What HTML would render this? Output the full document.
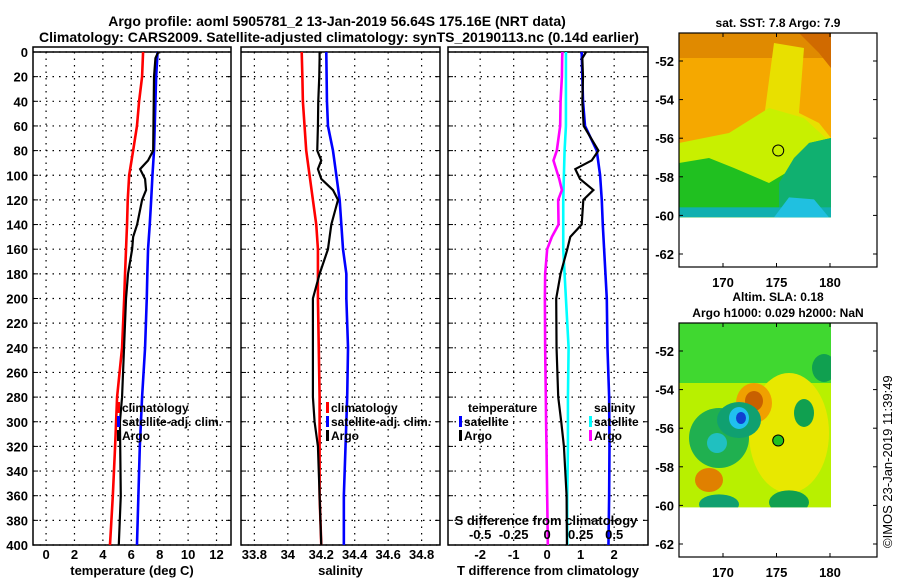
<!DOCTYPE html>
<html><head><meta charset="utf-8"><style>
body{margin:0;background:#fff;}
svg{display:block;font-family:"Liberation Sans",Arial,sans-serif;font-weight:bold;}
</style></head><body>
<svg id="c" width="900" height="580" viewBox="0 0 900 580">
<text x="337" y="26" font-size="14" text-anchor="middle">Argo profile: aoml 5905781_2 13-Jan-2019 56.64S 175.16E (NRT data)</text>
<text x="339" y="42" font-size="14" text-anchor="middle">Climatology: CARS2009. Satellite-adjusted climatology: synTS_20190113.nc (0.14d earlier)</text>
<g id="p1"></g>
<g id="p2"></g>
<g id="p3"></g>
<g id="m1"></g>
<g id="m2"></g>
<text transform="translate(892,548) rotate(-90)" font-size="13" font-weight="normal">©IMOS 23-Jan-2019 11:39:49</text>
</svg>
<script>
const NS="http://www.w3.org/2000/svg";
const depths=[0,20,40,60,80,100,120,140,160,180,200,240,280,320,360,400];
const tClim=[6.83,6.76,6.55,6.4,6.13,5.85,5.75,5.7,5.63,5.56,5.5,5.35,5.0,4.86,4.7,4.5];
const tSat=[7.85,7.75,7.7,7.65,7.6,7.49,7.4,7.3,7.18,7.13,7.09,6.97,6.76,6.6,6.5,6.4];
const argoDepths=[0,5,20,40,60,80,88,95,103,112,120,140,150,160,180,200,240,280,300,320,360,400];
const tArgo=[7.9,7.7,7.6,7.58,7.56,7.54,7.18,6.62,6.97,7.04,6.76,6.41,6.13,6.06,5.77,5.63,5.49,5.35,5.2,5.22,5.26,5.12];
const sClim=[34.083,34.087,34.09,34.1,34.11,34.13,34.15,34.17,34.18,34.18,34.18,34.185,34.19,34.19,34.19,34.2];
const sSat=[34.23,34.232,34.234,34.24,34.27,34.29,34.31,34.32,34.33,34.35,34.35,34.36,34.355,34.345,34.335,34.335];
const sArgo=[34.19,34.19,34.188,34.182,34.18,34.176,34.2,34.18,34.2,34.27,34.3,34.26,34.25,34.24,34.19,34.15,34.15,34.15,34.16,34.18,34.19,34.2];
const dtSat=[1.03,1.05,1.07,1.13,1.48,1.58,1.63,1.66,1.7,1.74,1.78,1.8,1.85,1.86,1.85,1.83];
const dtArgo=[1.16,1.05,1.07,1.05,1.09,1.53,1.33,0.84,0.98,1.38,1.08,1.03,0.69,0.6,0.4,0.27,0.28,0.33,0.42,0.5,0.58,0.59];
const dsSat=[0.14,0.14,0.14,0.14,0.13,0.125,0.12,0.12,0.12,0.13,0.14,0.16,0.155,0.155,0.15,0.15];
const dsArgo=[0.114,0.112,0.11,0.1,0.097,0.072,0.047,0.067,0.09,0.11,0.082,0.085,0.035,0.0,-0.015,-0.017,-0.015,-0.01,-0.008,-0.005,0.0,0.005];
const tTicks=[0,2,4,6,8,10,12];
const sTicks=[33.8,34,34.2,34.4,34.6,34.8];
const dtTicks=[-2,-1,0,1,2];
const dsTicks=[-0.5,-0.25,0,0.25,0.5];
const depthTicks=[0,20,40,60,80,100,120,140,160,180,200,220,240,260,280,300,320,340,360,380,400];

function el(tag,attrs,parent,txt){const e=document.createElementNS(NS,tag);for(const k in attrs)e.setAttribute(k,attrs[k]);if(txt!==undefined)e.textContent=txt;parent.appendChild(e);return e;}
const Y0=52,Y1=545;
const yD=d=>Y0+d*(Y1-Y0)/400;

function panel(g,x0,x1,dmin,dmax,ticks,fmt,xlabel,showY){
  const xs=v=>x0+(v-dmin)/(dmax-dmin)*(x1-x0);
  depthTicks.forEach(d=>{
    const l=el('line',{x1:x0,x2:x1,y1:yD(d),y2:yD(d),stroke:'#000','stroke-width':1.2,'stroke-dasharray':'1.5,5'},g);
    
    el('line',{x1:x0,x2:x0+5,y1:yD(d),y2:yD(d),stroke:'#000'},g);
    el('line',{x1:x1-5,x2:x1,y1:yD(d),y2:yD(d),stroke:'#000'},g);
    if(showY){const t=el('text',{x:28,y:yD(d)+5,'font-size':13,'text-anchor':'end'},g,d);
      }
  });
  ticks.forEach(v=>{
    el('line',{x1:xs(v),x2:xs(v),y1:Y0,y2:Y1,stroke:'#000','stroke-width':1.2,'stroke-dasharray':'1.5,5'},g);
    const t=el('text',{x:xs(v),y:Y1+14,'font-size':13,'text-anchor':'middle'},g,fmt(v));
    
  });
  const r=el('rect',{x:x0,y:Y0-5,width:x1-x0,height:Y1-Y0+5,fill:'none',stroke:'#000','stroke-width':1.5},g);
  
  el('line',{x1:x0,x2:x1,y1:Y0,y2:Y0,stroke:'#000','stroke-width':1.5},g);
  const lb=el('text',{x:(x0+x1)/2,y:575,'font-size':13,'text-anchor':'middle'},g,xlabel);
  
  return xs;
}
function line(g,xs,ds,vals,color,name,w){
  const p=el('polyline',{points:vals.map((v,i)=>xs(v)+','+yD(ds[i])).join(' '),fill:'none',stroke:color,'stroke-width':w||2.6},g);
  
}
function legend(g,x,y,color,label,name){
  el('rect',{x:x,y:y-10,width:3,height:11,fill:color},g);
  const t=el('text',{x:x+5,y:y,'font-size':12},g,label);
  
}
const p1=document.getElementById('p1');
const x1s=panel(p1,33,231,-0.92,13.02,tTicks,v=>v,'temperature (deg C)',true);
line(p1,x1s,depths,tClim,'#f00','temp-climatology-line');
line(p1,x1s,depths,tSat,'#00f','temp-satellite-line');
line(p1,x1s,argoDepths,tArgo,'#000','temp-argo-line',2.2);
legend(p1,117,412,'#f00','climatology','legend-climatology');
legend(p1,117,426,'#00f','satellite-adj. clim.','legend-satellite');
legend(p1,117,440,'#000','Argo','legend-argo');

const p2=document.getElementById('p2');
const x2s=panel(p2,241,440,33.72,34.91,sTicks,v=>v,'salinity',false);
line(p2,x2s,depths,sClim,'#f00','sal-climatology-line');
line(p2,x2s,depths,sSat,'#00f','sal-satellite-line');
line(p2,x2s,argoDepths,sArgo,'#000','sal-argo-line',2.2);
legend(p2,326,412,'#f00','climatology','legend-climatology');
legend(p2,326,426,'#00f','satellite-adj. clim.','legend-satellite');
legend(p2,326,440,'#000','Argo','legend-argo');

const p3=document.getElementById('p3');
const x3s=panel(p3,448,648,-2.96,3.01,dtTicks,v=>v,'T difference from climatology',false);
const x3ss=v=>x3s(v*4);
line(p3,x3ss,depths,dsSat,'#0ff','sdiff-satellite-line');
line(p3,x3ss,argoDepths,dsArgo,'#f0f','sdiff-argo-line');
line(p3,x3s,depths,dtSat,'#00f','tdiff-satellite-line');
line(p3,x3s,argoDepths,dtArgo,'#000','tdiff-argo-line',2.2);
el('text',{x:468,y:412,'font-size':12},p3,'temperature');
legend(p3,459,426,'#00f','satellite','legend-t-satellite');
legend(p3,459,440,'#000','Argo','legend-t-argo');
el('text',{x:594,y:412,'font-size':12},p3,'salinity');
legend(p3,589,426,'#0ff','satellite','legend-s-satellite');
legend(p3,589,440,'#f0f','Argo','legend-s-argo');
const st=el('text',{x:546,y:525,'font-size':13,'text-anchor':'middle'},p3,'S difference from climatology');

dsTicks.forEach(v=>{const t=el('text',{x:x3ss(v),y:539,'font-size':13,'text-anchor':'middle'},p3,v);
  });

// maps
const lonTicks=[170,175,180];
const latTicks=[-52,-54,-56,-58,-60,-62];
const argoLon=175.16, argoLat=-56.64;
function map(g,top,title1,title2,draw,dotFill){
  const X0=679,X1=877,Y0m=top,Y1m=top+234;
  const lx=lon=>723+(lon-170)*10.7;
  const ly=lat=>Y0m+28+(-52-lat)*19.3;
  const W=831-X0,H=ly(-60.1)-Y0m;
  const clip='clip'+top;
  const cp=el('clipPath',{id:clip},g);el('rect',{x:X0,y:Y0m,width:W,height:H},cp);
  const ig=el('g',{'clip-path':'url(#'+clip+')'},g);
  
  draw(ig,X0,Y0m,W,H);
  el('rect',{x:X0,y:Y0m,width:X1-X0,height:Y1m-Y0m,fill:'none',stroke:'#000','stroke-width':1.2},g);
  lonTicks.forEach(v=>{el('line',{x1:lx(v),x2:lx(v),y1:Y1m,y2:Y1m-4,stroke:'#000'},g);el('line',{x1:lx(v),x2:lx(v),y1:Y0m,y2:Y0m+4,stroke:'#000'},g);
    const t=el('text',{x:lx(v),y:Y1m+20,'font-size':13,'text-anchor':'middle'},g,v);});
  latTicks.forEach(v=>{el('line',{x1:X0,x2:X0+4,y1:ly(v),y2:ly(v),stroke:'#000'},g);el('line',{x1:X1-4,x2:X1,y1:ly(v),y2:ly(v),stroke:'#000'},g);
    const t=el('text',{x:674,y:ly(v)+5,'font-size':13,'text-anchor':'end'},g,v);});
  const c=el('circle',{cx:lx(argoLon),cy:ly(argoLat),r:5.5,fill:dotFill,stroke:'#000','stroke-width':1},g);
  
  let t=el('text',{x:778,y:title2?top-22:top-6,'font-size':12,'text-anchor':'middle'},g,title1);
  
  if(title2){t=el('text',{x:778,y:top-6,'font-size':12,'text-anchor':'middle'},g,title2);}
}
map(document.getElementById('m1'),33,'sat. SST: 7.8 Argo: 7.9',null,(g,x,y,w,h)=>{
  el('rect',{x:x,y:y,width:w,height:h,fill:'#f5a800'},g);
  el('rect',{x:x,y:y,width:w,height:25,fill:'#e08a00'},g);
  el('polygon',{points:`${x+120},${y} ${x+w},${y} ${x+w},${y+35} ${x+140},${y+20}`,fill:'#d06a00'},g);
  el('polygon',{points:`${x+95},${y+10} ${x+125},${y+15} ${x+120},${y+80} ${x+140},${y+90} ${x+w},${y+105} ${x+w},${y+110} ${x+110},${y+115} ${x+85},${y+85}`,fill:'#e8e000'},g);
  el('polygon',{points:`${x},${y+110} ${x+50},${y+100} ${x+90},${y+75} ${x+125},${y+85} ${x+w},${y+110} ${x+w},${y+h} ${x},${y+h}`,fill:'#c8f000'},g);
  el('polygon',{points:`${x},${y+130} ${x+30},${y+125} ${x+55},${y+135} ${x+90},${y+150} ${x+115},${y+135} ${x+130},${y+110} ${x+w},${y+105} ${x+w},${y+h} ${x},${y+h}`,fill:'#20c020'},g);
  el('polygon',{points:`${x+115},${y+125} ${x+130},${y+110} ${x+w},${y+105} ${x+w},${y+h} ${x+100},${y+h} ${x+100},${y+150}`,fill:'#10b070'},g);
  el('rect',{x:x,y:y+h-10,width:w,height:10,fill:'#10b0b0'},g);
  el('polygon',{points:`${x+95},${y+h} ${x+110},${y+h-20} ${x+135},${y+h-18} ${x+150},${y+h}`,fill:'#20c0e0'},g);
},'none');
map(document.getElementById('m2'),323,'Altim. SLA: 0.18','Argo h1000: 0.029 h2000: NaN',(g,x,y,w,h)=>{
  el('rect',{x:x,y:y,width:w,height:h,fill:'#80e800'},g);
  el('rect',{x:x,y:y,width:w,height:60,fill:'#40d830'},g);
  el('rect',{x:x,y:y+60,width:w,height:h-60,fill:'#b8f000'},g);
  el('ellipse',{cx:x+110,cy:y+110,rx:40,ry:60,fill:'#e8e800'},g);
  el('ellipse',{cx:x+75,cy:y+80,rx:18,ry:20,fill:'#f0a000'},g);
  el('ellipse',{cx:x+75,cy:y+78,rx:9,ry:10,fill:'#c86000'},g);
  el('ellipse',{cx:x+30,cy:y+157,rx:14,ry:12,fill:'#e08000'},g);
  el('ellipse',{cx:x+40,cy:y+115,rx:30,ry:30,fill:'#20b050'},g);
  el('ellipse',{cx:x+60,cy:y+97,rx:22,ry:18,fill:'#10a070'},g);
  el('ellipse',{cx:x+60,cy:y+95,rx:10,ry:11,fill:'#20c0f0'},g);
  el('ellipse',{cx:x+62,cy:y+95,rx:5,ry:6,fill:'#1040d0'},g);
  el('ellipse',{cx:x+38,cy:y+120,rx:10,ry:10,fill:'#20c0c0'},g);
  el('ellipse',{cx:x+125,cy:y+90,rx:10,ry:14,fill:'#10a050'},g);
  el('ellipse',{cx:x+145,cy:y+45,rx:12,ry:14,fill:'#10a050'},g);
  el('ellipse',{cx:x+110,cy:y+h-5,rx:20,ry:12,fill:'#10a050'},g);
  el('ellipse',{cx:x+40,cy:y+h-3,rx:20,ry:10,fill:'#10a070'},g);
},'#20c020');
</script>
</body></html>
